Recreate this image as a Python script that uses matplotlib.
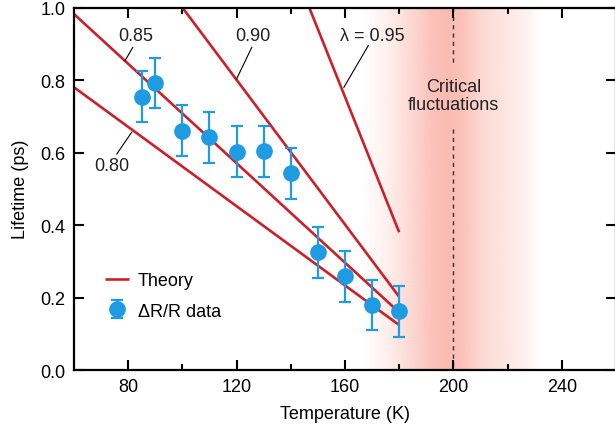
import numpy as np
import matplotlib
matplotlib.use('Agg')
import matplotlib.pyplot as plt

plt.rcParams['font.family'] = ['Liberation Sans', 'DejaVu Sans']

# Measured lifetimes from dR/R
temp = [85, 90, 100, 110, 120, 130, 140, 150, 160, 170, 180]
lifetime = [0.754, 0.792, 0.660, 0.642, 0.602, 0.603, 0.543, 0.325, 0.258, 0.179, 0.162]
lifetime_err = [0.07, 0.07, 0.07, 0.07, 0.07, 0.07, 0.07, 0.07, 0.07, 0.07, 0.07]

# Theory curves for each lambda (start / end points)
lam = ['0.80', '0.85', '0.90', '0.95']
theory_T0 = [60, 60, 100, 146.8]
theory_T1 = [180, 180, 180, 180]
theory_tau0 = [0.78, 0.982, 1.0, 1.0]
theory_tau1 = [0.124, 0.159, 0.202, 0.38]

T_c = 200

red = '#CC1F2A'
blue = '#1E9BE3'
fs = 13

fig = plt.figure(figsize=(6.15, 4.31), dpi=100)
ax = fig.add_axes([0.1203, 0.1392, 0.8813, 0.841])

# critical fluctuation band as a horizontal gradient
Tg = np.linspace(160, 240, 400)
alpha = np.interp(Tg, [166, 175, 185, 192, 198, 204, 210, 220, 228, 232],
                  [0.0, 0.1, 0.28, 0.42, 0.47, 0.41, 0.27, 0.17, 0.08, 0.0])
band = np.zeros((1, len(Tg), 4))
band[..., 0] = 245 / 255
band[..., 1] = 110 / 255
band[..., 2] = 90 / 255
band[..., 3] = alpha
ax.imshow(band, extent=[160, 240, 0, 1], aspect='auto', interpolation='bilinear', zorder=0)

# dashed line at Tc, broken around the label
ax.plot([T_c, T_c], [1.0, 0.84], ls=(0, (3, 3)), color='#333333', lw=1.0, zorder=1)
ax.plot([T_c, T_c], [0.665, 0.0], ls=(0, (3, 3)), color='#333333', lw=1.0, zorder=1)
ax.text(T_c, 0.757, 'Critical\nfluctuations', ha='center', va='center', fontsize=fs,
        linespacing=1.1, color='#222222')

for i in range(len(lam)):
    ax.plot([theory_T0[i], theory_T1[i]], [theory_tau0[i], theory_tau1[i]], color=red, lw=1.9,
            solid_capstyle='butt', zorder=2, label='Theory' if i == 0 else None)

ax.errorbar(temp, lifetime, yerr=lifetime_err, fmt='o', color=blue, ms=11, elinewidth=1.6,
            capsize=4, capthick=1.6, zorder=3, label='\u0394R/R data')

# lambda labels with leader lines
labels = [('0.80', 73.9, 0.564, (75.8, 0.596), (81.3, 0.656)),
          ('0.85', 82.9, 0.924, (81.7, 0.890), (78.8, 0.853)),
          ('0.90', 125.9, 0.924, (125.6, 0.890), (120.0, 0.803)),
          ('\u03bb = 0.95', 169.9, 0.924, (168.6, 0.895), (159.6, 0.780))]
for txt, tx, ty, p0, p1 in labels:
    ax.text(tx, ty, txt, ha='center', va='center', fontsize=fs, color='#222222')
    ax.plot([p0[0], p1[0]], [p0[1], p1[1]], color='black', lw=0.8, zorder=2)

ax.set_xlim(60, 260)
ax.set_ylim(0, 1.0)
ax.set_xticks([80, 120, 160, 200, 240])
ax.set_xticks([100, 140, 180, 220], minor=True)
ax.set_yticks([0, 0.2, 0.4, 0.6, 0.8, 1.0])
ax.set_yticklabels(['0.0', '0.2', '0.4', '0.6', '0.8', '1.0'])
ax.tick_params(which='major', direction='in', length=7, width=1.5, labelsize=fs,
               top=True, right=True, pad=6)
ax.tick_params(which='minor', direction='in', length=4, width=1.5, top=True)
for s in ax.spines.values():
    s.set_linewidth(1.6)

ax.set_xlabel('Temperature (K)', fontsize=fs, labelpad=7)
ax.set_ylabel('Lifetime (ps)', fontsize=fs, labelpad=8)

leg = ax.legend(loc='upper left', bbox_to_anchor=(0.028, 0.315), frameon=False, fontsize=fs,
                handlelength=1.3, handletextpad=0.5, labelspacing=0.75)

fig.savefig('out.png', dpi=100)
